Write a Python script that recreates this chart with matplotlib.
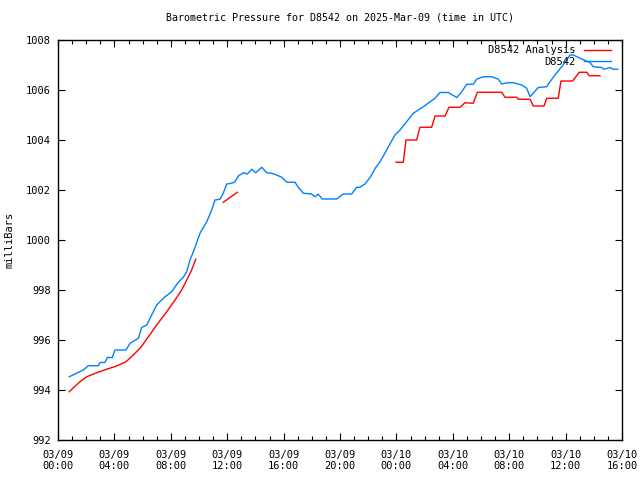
import numpy as np
import matplotlib
matplotlib.use("Agg")
import matplotlib.pyplot as plt
from matplotlib.ticker import MultipleLocator

# hours since 2025-03-09 00:00 UTC
obs_hours = [0.80, 1.79, 2.15, 2.86, 2.98, 3.33, 3.50, 3.85, 4.04, 4.82, 5.11, 5.70,
             5.94, 6.29, 7.00, 7.59, 8.06, 8.53, 8.89, 9.13, 9.36, 9.65, 10.07, 10.55,
             10.90, 11.13, 11.49, 11.72, 11.96, 12.32, 12.55, 12.79, 13.14, 13.43, 13.74,
             14.02, 14.45, 14.80, 15.16, 15.51, 15.87, 16.22, 16.81, 17.04, 17.40, 17.99,
             18.23, 18.46, 18.74, 19.77, 20.23, 20.83, 21.18, 21.42, 21.77, 22.13, 22.48,
             22.84, 23.90, 24.26, 25.20, 25.91, 26.74, 27.09, 27.68, 28.28, 28.63, 28.99,
             29.45, 29.70, 30.16, 30.76, 31.23, 31.47, 31.82, 32.29, 32.89, 33.24, 33.48,
             34.06, 34.66, 34.89, 35.25, 35.72, 36.08, 36.31, 36.55, 37.02, 37.73, 37.96,
             38.56, 38.72, 39.15, 39.38, 39.70]
obs_mb = [994.53, 994.80, 994.97, 994.97, 995.10, 995.10, 995.30, 995.30, 995.60, 995.60,
          995.87, 996.07, 996.50, 996.60, 997.40, 997.73, 997.93, 998.31, 998.51, 998.73,
          999.20, 999.60, 1000.27, 1000.73, 1001.20, 1001.60, 1001.63, 1001.87, 1002.24,
          1002.27, 1002.33, 1002.56, 1002.69, 1002.64, 1002.83, 1002.69, 1002.91, 1002.69,
          1002.67, 1002.60, 1002.51, 1002.31, 1002.31, 1002.11, 1001.87, 1001.84, 1001.73,
          1001.83, 1001.64, 1001.64, 1001.84, 1001.84, 1002.11, 1002.11, 1002.24, 1002.50,
          1002.85, 1003.13, 1004.20, 1004.40, 1005.07, 1005.33, 1005.67, 1005.90, 1005.90,
          1005.70, 1005.93, 1006.23, 1006.23, 1006.44, 1006.53, 1006.53, 1006.43, 1006.24,
          1006.29, 1006.29, 1006.20, 1006.07, 1005.73, 1006.10, 1006.13, 1006.33, 1006.60,
          1006.93, 1007.20, 1007.40, 1007.40, 1007.27, 1007.10, 1006.93, 1006.90, 1006.83,
          1006.90, 1006.83, 1006.83]

# analysis, gaps marked with nan
ana_hours = [0.80, 1.09, 1.56, 2.04, 2.74, 3.45, 4.16, 4.82, 5.34, 5.82, 6.29, 7.00, 7.71,
             8.30, 8.77, 9.13, 9.48, 9.77, np.nan,
             11.72, 12.72, np.nan,
             23.97, 24.49, 24.68, 25.44, 25.67, 26.50, 26.74, 27.45, 27.73, 28.51, 28.87,
             29.45, 29.74, 31.47, 31.70, 32.53, 32.65, 33.48, 33.71, 34.47, 34.66, 35.48,
             35.67, 36.50, 36.97, 37.50, 37.68, 38.44]
ana_mb = [993.93, 994.09, 994.33, 994.53, 994.69, 994.83, 994.96, 995.13, 995.40, 995.67,
          996.03, 996.60, 997.13, 997.60, 998.00, 998.40, 998.80, 999.23, np.nan,
          1001.51, 1001.91, np.nan,
          1003.11, 1003.11, 1004.00, 1004.00, 1004.51, 1004.51, 1004.96, 1004.96, 1005.31,
          1005.31, 1005.49, 1005.47, 1005.91, 1005.91, 1005.71, 1005.71, 1005.63, 1005.63,
          1005.36, 1005.36, 1005.67, 1005.67, 1006.36, 1006.36, 1006.71, 1006.71, 1006.57,
          1006.57]

tick_hours = list(range(0, 41, 4))
tick_labels = ["03/09\n00:00", "03/09\n04:00", "03/09\n08:00", "03/09\n12:00",
               "03/09\n16:00", "03/09\n20:00", "03/10\n00:00", "03/10\n04:00",
               "03/10\n08:00", "03/10\n12:00", "03/10\n16:00"]

plt.rcParams['font.family'] = ['DejaVu Sans Mono']
plt.rcParams['font.size'] = 7.5

fig = plt.figure(figsize=(6.4, 4.8), dpi=100)
ax = fig.add_axes([58 / 640, 40 / 480, 564 / 640, 400 / 480])

ax.plot(ana_hours, ana_mb, color='#ff0000', lw=1.0, label='D8542 Analysis')
ax.plot(obs_hours, obs_mb, color='#0080ff', lw=1.0, label='D8542')

ax.set_xlim(0, 40)
ax.set_ylim(992, 1008)
ax.set_xticks(tick_hours)
ax.set_xticklabels(tick_labels)
ax.xaxis.set_minor_locator(MultipleLocator(1))
ax.yaxis.set_major_locator(MultipleLocator(2))
ax.tick_params(which='both', direction='in', top=True, right=True, width=0.8)
ax.tick_params(which='major', length=5, pad=5)
ax.tick_params(which='minor', length=3)
ax.tick_params(axis='x', which='major', pad=7)
for s in ax.spines.values():
    s.set_linewidth(1.0)

ax.set_ylabel('milliBars', labelpad=8)
ax.set_title('Barometric Pressure for D8542 on 2025-Mar-09 (time in UTC)', fontsize=7.2, pad=14)

leg = ax.legend(loc='upper right', frameon=False, markerfirst=False, handlelength=2.6,
                borderaxespad=0.3, borderpad=0.2, labelspacing=0.15, handletextpad=0.8,
                bbox_to_anchor=(0.99, 1.0))
for t in leg.get_texts():
    t.set_ha('right')

fig.savefig('out.png', dpi=100)
